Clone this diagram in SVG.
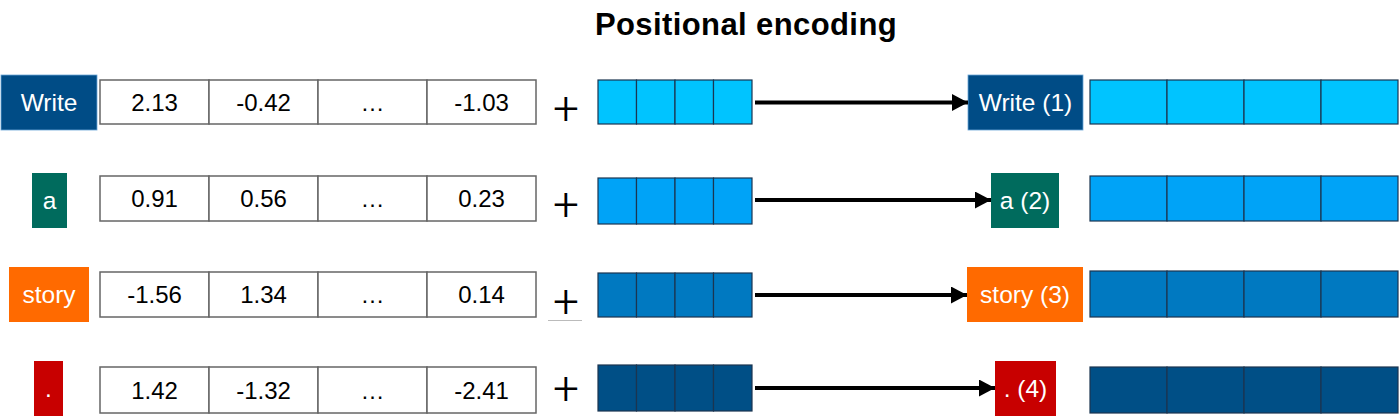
<svg xmlns="http://www.w3.org/2000/svg" width="1400" height="417" viewBox="0 0 1400 417">
<defs>
<style>
text{font-family:"Liberation Sans",Arial,sans-serif;}
.title{font-size:31px;font-weight:bold;fill:#000;letter-spacing:0.4px;}
.lbl{font-size:24.5px;fill:#fff;text-anchor:middle;}
.num{font-size:24px;fill:#000;text-anchor:middle;}
.plus{font-family:"Roboto","Liberation Sans",sans-serif;font-weight:300;font-size:46px;fill:#000;text-anchor:middle;}
.cell{fill:#fff;stroke:#666;stroke-width:1.5;}
.bar{stroke:#1b3550;stroke-width:1.2;}
.conn{stroke:#000;stroke-width:3.8;fill:none;}
</style>
<marker id="ah" markerUnits="userSpaceOnUse" markerWidth="16" markerHeight="17" refX="16" refY="8.5" orient="auto">
<path d="M0,0 L16,8.5 L0,17 Z" fill="#000"/>
</marker>
</defs>
<rect width="1400" height="417" fill="#fff"/>
<text class="title" x="746" y="35" text-anchor="middle">Positional encoding</text>

<!-- Row 1 -->
<g id="tok1">
<rect x="1" y="75" width="96" height="55" fill="#004c86" stroke="#6aa6d6" stroke-width="0.8"/>
<text class="lbl" x="49" y="111">Write</text>
</g>
<g id="emb1">
<rect class="cell" x="100" y="80" width="109" height="44"/>
<rect class="cell" x="209" y="80" width="109" height="44"/>
<rect class="cell" x="318" y="80" width="109" height="44"/>
<rect class="cell" x="427" y="80" width="109" height="44"/>
<text class="num" x="154.5" y="110.5">2.13</text>
<text class="num" x="263.5" y="110.5">-0.42</text>
<text class="num" x="372.5" y="110.5">…</text>
<text class="num" x="481.5" y="110.5">-1.03</text>
</g>
<g id="plus1"><text class="plus" x="566" y="124">+</text></g>
<g id="pos1" fill="#00c4ff">
<rect class="bar" x="598" y="80" width="38.5" height="44"/>
<rect class="bar" x="636.5" y="80" width="38.5" height="44"/>
<rect class="bar" x="675" y="80" width="38.5" height="44"/>
<rect class="bar" x="713.5" y="80" width="38.5" height="44"/>
</g>
<g id="out1">
<rect x="968" y="75" width="115" height="55" fill="#004c86" stroke="#6aa6d6" stroke-width="0.8"/>
<text class="lbl" x="1025.5" y="111">Write (1)</text>
</g>
<g id="res1" fill="#00c4ff">
<rect class="bar" x="1090" y="80" width="77" height="44"/>
<rect class="bar" x="1167" y="80" width="77" height="44"/>
<rect class="bar" x="1244" y="80" width="77" height="44"/>
<rect class="bar" x="1321" y="80" width="77" height="44"/>
</g>

<!-- Row 2 -->
<g id="tok2">
<rect x="32" y="173" width="35" height="55" fill="#006b5d"/>
<text class="lbl" x="49.5" y="209">a</text>
</g>
<g id="emb2">
<rect class="cell" x="100" y="176" width="109" height="45"/>
<rect class="cell" x="209" y="176" width="109" height="45"/>
<rect class="cell" x="318" y="176" width="109" height="45"/>
<rect class="cell" x="427" y="176" width="109" height="45"/>
<text class="num" x="154.5" y="207">0.91</text>
<text class="num" x="263.5" y="207">0.56</text>
<text class="num" x="372.5" y="207">…</text>
<text class="num" x="481.5" y="207">0.23</text>
</g>
<g id="plus2"><text class="plus" x="566" y="220">+</text></g>
<g id="pos2" fill="#00a3f7">
<rect class="bar" x="598" y="178" width="38.5" height="46"/>
<rect class="bar" x="636.5" y="178" width="38.5" height="46"/>
<rect class="bar" x="675" y="178" width="38.5" height="46"/>
<rect class="bar" x="713.5" y="178" width="38.5" height="46"/>
</g>
<g id="out2">
<rect x="991" y="173" width="68" height="55" fill="#006b5d"/>
<text class="lbl" x="1025" y="209">a (2)</text>
</g>
<g id="res2" fill="#00a3f7">
<rect class="bar" x="1090" y="176" width="77" height="45"/>
<rect class="bar" x="1167" y="176" width="77" height="45"/>
<rect class="bar" x="1244" y="176" width="77" height="45"/>
<rect class="bar" x="1321" y="176" width="77" height="45"/>
</g>

<!-- Row 3 -->
<g id="tok3">
<rect x="9" y="267" width="80" height="55" fill="#ff6a00"/>
<text class="lbl" x="49" y="303">story</text>
</g>
<g id="emb3">
<rect class="cell" x="100" y="272" width="109" height="45"/>
<rect class="cell" x="209" y="272" width="109" height="45"/>
<rect class="cell" x="318" y="272" width="109" height="45"/>
<rect class="cell" x="427" y="272" width="109" height="45"/>
<text class="num" x="154.5" y="303">-1.56</text>
<text class="num" x="263.5" y="303">1.34</text>
<text class="num" x="372.5" y="303">…</text>
<text class="num" x="481.5" y="303">0.14</text>
</g>
<g id="plus3"><text class="plus" x="566" y="317">+</text>
<line x1="548" y1="320.5" x2="582" y2="320.5" stroke="#bbb" stroke-width="1"/></g>
<g id="pos3" fill="#0079c1">
<rect class="bar" x="598" y="273" width="38.5" height="44"/>
<rect class="bar" x="636.5" y="273" width="38.5" height="44"/>
<rect class="bar" x="675" y="273" width="38.5" height="44"/>
<rect class="bar" x="713.5" y="273" width="38.5" height="44"/>
</g>
<g id="out3">
<rect x="967" y="267" width="116" height="55" fill="#ff6a00"/>
<text class="lbl" x="1025" y="303">story (3)</text>
</g>
<g id="res3" fill="#0079c1">
<rect class="bar" x="1090" y="271" width="77" height="46"/>
<rect class="bar" x="1167" y="271" width="77" height="46"/>
<rect class="bar" x="1244" y="271" width="77" height="46"/>
<rect class="bar" x="1321" y="271" width="77" height="46"/>
</g>

<!-- Row 4 -->
<g id="tok4">
<rect x="34" y="361" width="29" height="55" fill="#c80000"/>
<text class="lbl" x="48.5" y="397">.</text>
</g>
<g id="emb4">
<rect class="cell" x="100" y="367" width="109" height="46"/>
<rect class="cell" x="209" y="367" width="109" height="46"/>
<rect class="cell" x="318" y="367" width="109" height="46"/>
<rect class="cell" x="427" y="367" width="109" height="46"/>
<text class="num" x="154.5" y="398.5">1.42</text>
<text class="num" x="263.5" y="398.5">-1.32</text>
<text class="num" x="372.5" y="398.5">…</text>
<text class="num" x="481.5" y="398.5">-2.41</text>
</g>
<g id="plus4"><text class="plus" x="566" y="404">+</text></g>
<g id="pos4" fill="#004f86">
<rect class="bar" x="598" y="365" width="38.5" height="46"/>
<rect class="bar" x="636.5" y="365" width="38.5" height="46"/>
<rect class="bar" x="675" y="365" width="38.5" height="46"/>
<rect class="bar" x="713.5" y="365" width="38.5" height="46"/>
</g>
<g id="out4">
<rect x="995" y="361" width="61" height="55" fill="#c80000"/>
<text class="lbl" x="1025.5" y="397">. (4)</text>
</g>
<g id="res4" fill="#004f86">
<rect class="bar" x="1090" y="367" width="77" height="46"/>
<rect class="bar" x="1167" y="367" width="77" height="46"/>
<rect class="bar" x="1244" y="367" width="77" height="46"/>
<rect class="bar" x="1321" y="367" width="77" height="46"/>
</g>

<g id="connectors">
<line class="conn" x1="755" y1="102.5" x2="968" y2="102.5" marker-end="url(#ah)"/>
<line class="conn" x1="755" y1="200" x2="991" y2="200" marker-end="url(#ah)"/>
<line class="conn" x1="755" y1="295" x2="967" y2="295" marker-end="url(#ah)"/>
<line class="conn" x1="755" y1="388" x2="995" y2="388" marker-end="url(#ah)"/>
</g>
</svg>
